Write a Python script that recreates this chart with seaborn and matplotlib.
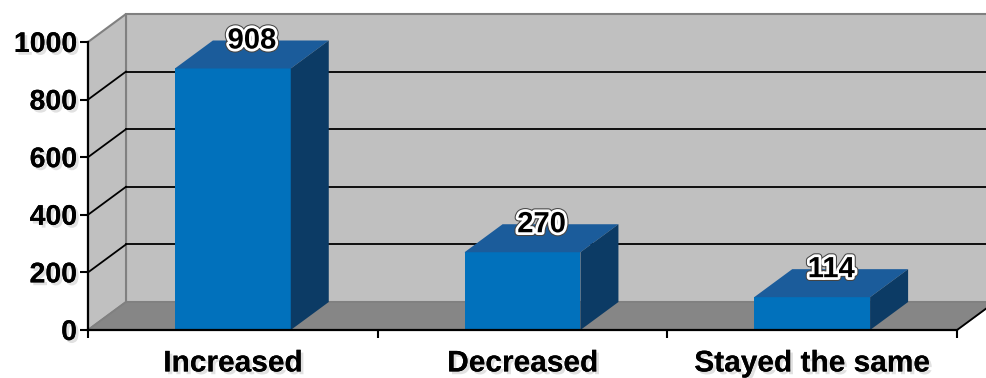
import matplotlib
matplotlib.use("Agg")
import matplotlib.pyplot as plt
import matplotlib.patheffects as pe
from matplotlib.patches import Polygon
import seaborn as sns
import pandas as pd

# ---- data ----
categories = ["Increased", "Decreased", "Stayed the same"]
values = [908, 270, 114]
y_ticks = [0, 200, 400, 600, 800, 1000]

# ---- styles ----
FRONT = "#0171bc"
TOP = "#1b5c9b"
SIDE = "#0c3b65"
WALL = "#c0c0c0"
FLOOR = "#868686"
EDGE = "#808080"
DX_PX, DY_PX = 38, 28  # depth offset in pixels

plt.rcParams["font.family"] = ["Liberation Sans", "DejaVu Sans"]
plt.rcParams["font.weight"] = "bold"

fig = plt.figure(figsize=(9.86, 3.78), dpi=100)
fig.patch.set_facecolor("white")
ax = fig.add_axes([88 / 986, 48 / 378, 869 / 986, 288 / 378])

df = pd.DataFrame({"category": categories, "value": values})
sns.barplot(data=df, x="category", y="value", color=FRONT, saturation=1,
            width=0.4, ax=ax, zorder=5, linewidth=0)

ax.set_xlim(-0.5, len(categories) - 0.5)
ax.set_ylim(y_ticks[0], y_ticks[-1])
ax.patch.set_visible(False)

# pixel -> data conversion for depth offset
pos = ax.get_position()
w_px = pos.width * fig.get_figwidth() * fig.dpi
h_px = pos.height * fig.get_figheight() * fig.dpi
x0, x1 = ax.get_xlim()
y0, y1 = ax.get_ylim()
ddx = DX_PX * (x1 - x0) / w_px
ddy = DY_PX * (y1 - y0) / h_px

# back wall
ax.add_patch(Polygon([(x0 + ddx, y0 + ddy), (x1 + ddx, y0 + ddy), (x1 + ddx, y1 + ddy),
                      (x0 + ddx, y1 + ddy)], closed=True, facecolor=WALL, edgecolor=EDGE,
                     linewidth=1.5, clip_on=False, zorder=0))
# left wall
ax.add_patch(Polygon([(x0, y0), (x0 + ddx, y0 + ddy), (x0 + ddx, y1 + ddy), (x0, y1)],
                     closed=True, facecolor=WALL, edgecolor=EDGE, linewidth=1.5,
                     clip_on=False, zorder=0.5))
# floor
ax.add_patch(Polygon([(x0, y0), (x1, y0), (x1 + ddx, y0 + ddy), (x0 + ddx, y0 + ddy)],
                     closed=True, facecolor=FLOOR, edgecolor=EDGE, linewidth=1.2,
                     clip_on=False, zorder=1))
ax.plot([x1, x1 + ddx], [y0, y0 + ddy], color="black", lw=1.3, clip_on=False, zorder=1.2)

# gridlines
for t in y_ticks[1:-1]:
    ax.plot([x0 + ddx, x1 + ddx], [t + ddy, t + ddy], color="black", lw=1.3,
            clip_on=False, zorder=1.5)
    ax.plot([x0, x0 + ddx], [t, t + ddy], color="black", lw=1.3, clip_on=False, zorder=1.5)

# 3D bar faces and labels
halo = [pe.withSimplePatchShadow(offset=(2, -2), shadow_rgbFace="#999999", alpha=0.4),
        pe.Stroke(linewidth=5.5, foreground="#444444"),
        pe.Stroke(linewidth=4, foreground="white"), pe.Normal()]
for bar, v in zip(ax.patches[:len(values)], values):
    bx0 = bar.get_x()
    bx1 = bx0 + bar.get_width()
    top = bar.get_height()
    ax.add_patch(Polygon([(bx0, top), (bx1, top), (bx1 + ddx, top + ddy), (bx0 + ddx, top + ddy)],
                         closed=True, facecolor=TOP, edgecolor="none", clip_on=False, zorder=6))
    ax.add_patch(Polygon([(bx1, 0), (bx1 + ddx, ddy), (bx1 + ddx, top + ddy), (bx1, top)],
                         closed=True, facecolor=SIDE, edgecolor="none", clip_on=False, zorder=6))
    ax.text((bx0 + bx1) / 2 + ddx / 2, top + ddy, f"{v}", ha="center", va="center",
            fontsize=21, fontweight="bold", color="black", zorder=10, path_effects=halo)

# axes, ticks
for s in ["top", "right"]:
    ax.spines[s].set_visible(False)
for s in ["left", "bottom"]:
    ax.spines[s].set_color("black")
    ax.spines[s].set_linewidth(1.6)
    ax.spines[s].set_zorder(8)

shadow = [pe.withSimplePatchShadow(offset=(2, -2), shadow_rgbFace="#aaaaaa", alpha=0.35), pe.Normal()]
ax.set_yticks(y_ticks)
ax.set_yticklabels([str(t) for t in y_ticks], fontsize=20.5, fontweight="bold")
ax.tick_params(axis="y", length=6, width=1.5, pad=2, color="black")
ax.set_xticks(range(len(categories)))
ax.set_xticklabels(categories, fontsize=21.5, fontweight="bold")
ax.set_xticks([i - 0.5 for i in range(len(categories) + 1)], minor=True)
ax.tick_params(axis="x", which="major", length=0, pad=14)
ax.tick_params(axis="x", which="minor", length=6, width=1.5, color="black")
for lab in ax.get_xticklabels() + ax.get_yticklabels():
    lab.set_path_effects(shadow)
ax.set_xlabel("")
ax.set_ylabel("")

fig.savefig("out.png", dpi=100)
